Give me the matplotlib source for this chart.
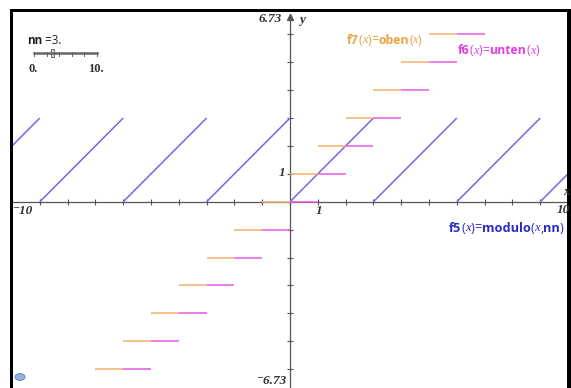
import matplotlib
matplotlib.use("Agg")
import matplotlib.pyplot as plt
from matplotlib.patches import Rectangle, Circle

# ---- data ----
nn = 3
x_range = (-10, 10)
y_range = (-6.73, 6.73)

# f5(x) = modulo(x, nn): sawtooth segments
saw_x0 = [-10, -9, -6, -3, 0, 3, 6, 9]
saw_x1 = [-9, -6, -3, 0, 3, 6, 9, 10]
saw_y0 = [2, 0, 0, 0, 0, 0, 0, 0]
saw_y1 = [3, 3, 3, 3, 3, 3, 3, 1]

# f7(x) = oben(x) (ceiling) and f6(x) = unten(x) (floor) step levels
step_levels = [-6, -5, -4, -3, -2, -1, 0, 1, 2, 3, 4, 5, 6]
oben_x0 = [-7, -6, -5, -4, -3, -2, -1, 0, 1, 2, 3, 4, 5]
oben_x1 = [-6, -5, -4, -3, -2, -1, 0, 1, 2, 3, 4, 5, 6]
unten_x0 = [-6, -5, -4, -3, -2, -1, 0, 1, 2, 3, 4, 5, 6]
unten_x1 = [-5, -4, -3, -2, -1, 0, 1, 2, 3, 4, 5, 6, 7]

x_ticks = list(range(-10, 11))
y_ticks = [-6, -5, -4, -3, -2, -1, 1, 2, 3, 4, 5, 6]

slider_min, slider_max, slider_val = 0, 10, 3

BLUE_LINE = "#6f6ae4"
BLUE_TEXT = "#2a2ac8"
ORANGE = "#f4b26a"
ORANGE_TEXT = "#f0a040"
MAGENTA = "#e858e8"
MAGENTA_TEXT = "#e040e0"
AXIS = "#555555"

W, H = 571, 388
fig = plt.figure(figsize=(W / 100, H / 100), dpi=100)
fig.patch.set_facecolor("white")

# axes placement (pixel based)
px_left, px_right = 12, 568
px_top, px_bottom = 14, 389.5
ax = fig.add_axes([px_left / W, (H - px_bottom) / H,
                   (px_right - px_left) / W, (px_bottom - px_top) / H])
ax.set_xlim(*x_range)
ax.set_ylim(*y_range)
ax.axis("off")

# axes lines
ax.axhline(0, color=AXIS, lw=0.9, zorder=1)
ax.axvline(0, color=AXIS, lw=0.9, zorder=1)
ax.plot(x_ticks, [0] * len(x_ticks), linestyle="none", marker="|",
        ms=4, mew=0.8, color=AXIS, zorder=1)
ax.plot([0] * len(y_ticks), y_ticks, linestyle="none", marker="_",
        ms=4, mew=0.8, color=AXIS, zorder=1)
ax.plot([0], [y_range[1] - 0.12], marker="^", ms=4, color=AXIS,
        clip_on=False, zorder=2)

# sawtooth
for a, b, c, d in zip(saw_x0, saw_x1, saw_y0, saw_y1):
    ax.plot([a, b], [c, d], color=BLUE_LINE, lw=1.1, zorder=3,
            solid_capstyle="butt")

# steps
for lv, a, b in zip(step_levels, oben_x0, oben_x1):
    ax.plot([a, b], [lv, lv], color=ORANGE, lw=1.1, zorder=3,
            solid_capstyle="butt")
for lv, a, b in zip(step_levels, unten_x0, unten_x1):
    ax.plot([a, b], [lv, lv], color=MAGENTA, lw=1.1, zorder=3,
            solid_capstyle="butt")

# tick labels
SERIF = ["Liberation Serif", "DejaVu Serif"]
num_kw = dict(family=SERIF, style="italic", weight="bold",
              color="#333333", fontsize=9.5)
fig.text(270 / W, 1 - 19 / H, "6.73", ha="center", va="center", **num_kw)
fig.text(271 / W, 1 - 381 / H, "\u207b6.73", ha="center", va="center", **num_kw)
fig.text(22 / W, 1 - 211 / H, "\u207b10", ha="center", va="center", **num_kw)
fig.text(563 / W, 1 - 210 / H, "10", ha="center", va="center", **num_kw)
fig.text(319 / W, 1 - 211 / H, "1", ha="center", va="center", **num_kw)
fig.text(282 / W, 1 - 173 / H, "1", ha="center", va="center", **num_kw)
fig.text(302 / W, 1 - 20 / H, "y", ha="center", va="center", **num_kw)
fig.text(566 / W, 1 - 192 / H, "x", ha="center", va="center", **num_kw)

# function labels built from pieces
renderer = fig.canvas.get_renderer()


def label(x_px, y_px, pieces, color, size=8.8):
    x = x_px
    for txt, kind in pieces:
        if kind == "b":
            kw = dict(family="Open Sans", weight="bold")
        elif kind == "i":
            kw = dict(family=SERIF, style="italic")
        else:
            kw = dict(family="Open Sans")
        t = fig.text(x / W, 1 - y_px / H, txt, ha="left", va="center",
                     color=color, fontsize=size, **kw)
        bb = t.get_window_extent(renderer)
        x += bb.width


label(347, 40, [("f7", "b"), ("(", "n"), ("x", "i"), (")", "n"), ("=", "n"),
                ("oben", "b"), ("(", "n"), ("x", "i"), (")", "n")], ORANGE_TEXT)
label(458, 51, [("f6", "b"), ("(", "n"), ("x", "i"), (")", "n"), ("=", "n"),
                ("unten", "b"), ("(", "n"), ("x", "i"), (")", "n")], MAGENTA_TEXT)
label(449, 228, [("f5", "b"), ("(", "n"), ("x", "i"), (")", "n"), ("=", "n"),
                 ("modulo", "b"), ("(", "n"), ("x", "i"), (",", "n"),
                 ("nn", "b"), (")", "n")], BLUE_TEXT, size=9.2)

# slider widget
label(27, 41, [("nn", "b"), (" =3.", "n")], "#222222", size=8.5)
s0, s1, sy = 34, 97, 53
fig.add_artist(plt.Line2D([s0 / W, s1 / W], [1 - sy / H, 1 - sy / H],
                          color="#666666", lw=1.8))
for i in range(slider_min, slider_max + 1, 2):
    xp = s0 + (s1 - s0) * (i - slider_min) / (slider_max - slider_min)
    fig.add_artist(plt.Line2D([xp / W, xp / W], [1 - (sy - 1) / H, 1 - (sy + 3) / H],
                              color="#666666", lw=0.7))
xt = s0 + (s1 - s0) * (slider_val - slider_min) / (slider_max - slider_min)
fig.add_artist(Rectangle(((xt - 1.5) / W, 1 - (sy + 4) / H), 3 / W, 8 / H,
                         facecolor="#dddddd", edgecolor="#555555", lw=0.6))
slider_kw = dict(family=SERIF, weight="bold", color="#333333", fontsize=9)
fig.text(33 / W, 1 - 69 / H, "0.", ha="center", va="center", **slider_kw)
fig.text(96 / W, 1 - 69 / H, "10.", ha="center", va="center", **slider_kw)

# small icon bottom-left
fig.add_artist(Circle((20 / W, 1 - 377 / H), 5 / W, facecolor="#8fb3dd",
                      edgecolor="#4d7fbf", lw=0.6))

# frame
fig.add_artist(Rectangle((10 / W, 0), 3 / W, 1 - 9 / H, facecolor="black",
                         edgecolor="none"))
fig.add_artist(Rectangle((10 / W, 1 - 12 / H), 561 / W, 3 / H,
                         facecolor="black", edgecolor="none"))
fig.add_artist(Rectangle((567 / W, 0), 4 / W, 1 - 9 / H, facecolor="black",
                         edgecolor="none"))

fig.savefig("out.png", dpi=100, facecolor="white")
